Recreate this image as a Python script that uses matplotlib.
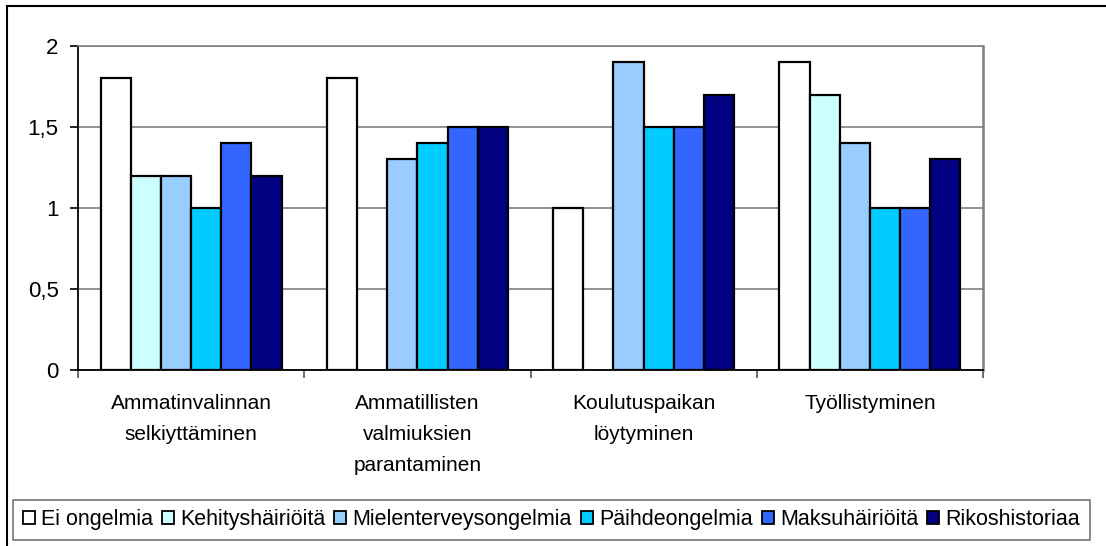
import matplotlib.pyplot as plt
import matplotlib.patches as patches
import numpy as np

plt.rcParams['font.family'] = ['Liberation Sans', 'DejaVu Sans']

categories = ["Ammatinvalinnan\nselkiyttäminen",
              "Ammatillisten\nvalmiuksien\nparantaminen",
              "Koulutuspaikan\nlöytyminen",
              "Työllistyminen"]

series_names = ["Ei ongelmia", "Kehityshäiriöitä", "Mielenterveysongelmia",
                "Päihdeongelmia", "Maksuhäiriöitä", "Rikoshistoriaa"]

ei_ongelmia = [1.8, 1.8, 1.0, 1.9]
kehityshairioita = [1.2, np.nan, np.nan, 1.7]
mielenterveys = [1.2, 1.3, 1.9, 1.4]
paihde = [1.0, 1.4, 1.5, 1.0]
maksuhairioita = [1.4, 1.5, 1.5, 1.0]
rikoshistoriaa = [1.2, 1.5, 1.7, 1.3]

values = [ei_ongelmia, kehityshairioita, mielenterveys, paihde, maksuhairioita, rikoshistoriaa]
colors = ["#FFFFFF", "#CCFFFF", "#99CCFF", "#00CCFF", "#3366FF", "#000080"]

W, H = 1106, 546
fig = plt.figure(figsize=(W / 100, H / 100), dpi=100)
ax = fig.add_axes([78 / W, 1 - 370 / H, (983 - 78) / W, (370 - 46) / H])

# outer chart frame
frame = patches.Rectangle((7 / W, -0.2), 1.2, 1.2 - 6 / H,
                          transform=fig.transFigure, fill=False,
                          edgecolor="black", linewidth=1.5, clip_on=False)
fig.patches.append(frame)

n = len(series_names)
bar_w = 1.0 / (n + 1.5)
offset0 = (1.0 - n * bar_w) / 2

x = np.arange(len(categories))
for i in range(n):
    ax.bar(x + offset0 + i * bar_w, values[i], width=bar_w, align="edge",
           color=colors[i], edgecolor="black", linewidth=1.6,
           label=series_names[i], zorder=3)

ax.set_xlim(0, len(categories))
ax.set_ylim(0, 2)

ax.set_yticks([0, 0.5, 1, 1.5, 2])
ax.set_yticklabels(["0", "0,5", "1", "1,5", "2"], fontsize=16)
ax.yaxis.grid(True, color="#808080", linewidth=1.2, zorder=0)

ax.set_xticks(np.arange(len(categories) + 1))
ax.set_xticklabels([])
ax.set_xticks(x + 0.5, minor=True)
ax.set_xticklabels(categories, minor=True, fontsize=15, linespacing=1.8)
ax.tick_params(axis="x", which="minor", length=0, pad=17)
ax.tick_params(axis="x", which="major", length=6, width=1.2, color="#555555")
ax.tick_params(axis="y", length=6, width=1.2, pad=8)

ax.spines["left"].set_linewidth(1.3)
ax.spines["bottom"].set_linewidth(1.3)
ax.spines["top"].set_color("#808080")
ax.spines["right"].set_color("#808080")
ax.spines["right"].set_linewidth(1.8)
ax.spines["top"].set_linewidth(1.2)

leg = fig.legend(loc="lower left", bbox_to_anchor=(13 / W, 1 - 540 / H, (1090 - 13) / W, 43 / H),
                 mode="expand", ncol=n, fontsize=15.5, frameon=True, fancybox=False,
                 handlelength=0.55, handleheight=0.55, handletextpad=0.3,
                 columnspacing=0.4, borderaxespad=0, borderpad=0.45)
leg.get_frame().set_edgecolor("#555555")
leg.get_frame().set_linewidth(1.2)
for h in leg.legend_handles:
    h.set_linewidth(1.3)

fig.savefig("out.png", dpi=100)
